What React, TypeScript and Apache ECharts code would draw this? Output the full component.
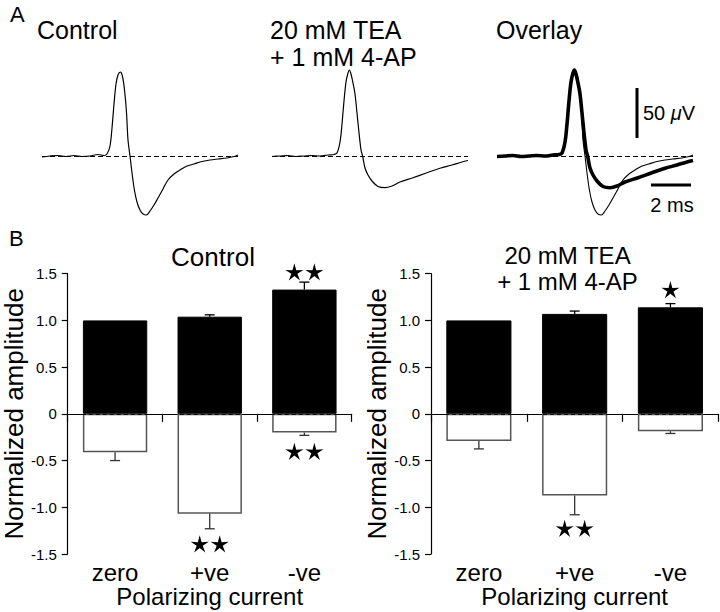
import React, { useEffect, useRef } from 'react';
import * as echarts from 'echarts';

const FONT = "'Liberation Sans', Arial, Helvetica, sans-serif";

// ---- Panel A: extracellular spike traces, [time (ms), amplitude (µV)] ----
const controlTrace: number[][] = [
  [0, -1], [0.4, 0], [0.8, 0.5], [1.2, -0.5], [1.6, 0.5], [2.0, -0.5], [2.4, 0], [2.8, 1.5],
  [3.1, 0.5], [3.25, 2], [3.4, 10], [3.5, 28], [3.6, 52], [3.7, 72], [3.8, 81], [3.92, 84],
  [4.02, 80], [4.12, 67], [4.22, 45], [4.3, 16], [4.4, 0], [4.52, -20], [4.62, -34], [4.75, -46],
  [4.9, -54], [5.05, -58], [5.22, -59], [5.4, -55], [5.6, -49], [5.8, -42], [6.05, -33], [6.3, -24],
  [6.6, -18], [6.9, -14], [7.25, -10], [7.6, -8], [7.9, -6], [8.4, -4], [8.8, -3], [9.25, -2],
  [9.6, -0.5], [9.8, 1],
];
const teaTrace: number[][] = [
  [0, -0.5], [0.4, 0], [0.8, 0.5], [1.2, -0.5], [1.6, 0], [2.0, 0.5], [2.4, 0], [2.8, 1],
  [3.1, 1.5], [3.25, 3], [3.4, 14], [3.5, 32], [3.6, 55], [3.7, 74], [3.8, 83], [3.87, 86],
  [3.95, 82], [4.05, 73], [4.15, 62], [4.3, 33], [4.45, 6], [4.53, 0], [4.65, -12], [4.8, -19],
  [5.0, -25], [5.3, -30.5], [5.65, -31.7], [6.0, -30], [6.4, -26], [7.05, -21.7], [7.75, -16.7],
  [8.4, -12.3], [9.0, -9], [9.5, -6], [9.8, -4.5],
];
const scaleBarVolt: number[][] = [[7.0, 18], [7.0, 68]]; // 50 µV
const scaleBarTime: number[][] = [[7.7, -29], [9.7, -29]]; // 2 ms

// ---- Panel B: normalized amplitudes ----
const categories = ['zero', '+ve', '-ve'];
const controlDepol = [1.0, 1.04, 1.33];
const controlDepolErr = [0, 0.02, 0.08];
const controlHyper = [-0.41, -1.07, -0.2];
const controlHyperErr = [0.09, 0.16, 0.03];
const teaDepol = [1.0, 1.07, 1.14];
const teaDepolErr = [0, 0.03, 0.04];
const teaHyper = [-0.29, -0.875, -0.185];
const teaHyperErr = [0.085, 0.205, 0.025];

// significance markers: category index, value position, number of stars
const controlSigCat = [2, 2, 1];
const controlSigVal = [1.52, -0.4, -1.39];
const controlSigStars = [2, 2, 2];
const teaSigCat = [2, 1];
const teaSigVal = [1.33, -1.225];
const teaSigStars = [1, 2];

const yTickLabels: Record<string, string> = {
  '-1.5': '-1.5', '-1': '-1.0', '-0.5': '-0.5', '0': '0', '0.5': '0.5', '1': '1.0', '1.5': '1.5',
};

const baseline = {
  silent: true,
  symbol: 'none',
  label: { show: false },
  lineStyle: { type: [5, 3], color: '#000', width: 1 },
  data: [{ yAxis: 0 }],
};

function traceSeries(data: number[][], idx: number, width: number, withBase: boolean, z = 2) {
  return {
    type: 'line',
    xAxisIndex: idx,
    yAxisIndex: idx,
    data,
    smooth: 0.35,
    symbol: 'none',
    z,
    lineStyle: { color: '#000', width },
    markLine: withBase ? baseline : undefined,
  };
}

function errorSeries(values: number[], errs: number[], idx: number, color: string) {
  const data = values.map((v, i) => [i, v, v + Math.sign(v) * errs[i]]);
  return {
    type: 'custom',
    xAxisIndex: idx,
    yAxisIndex: idx,
    silent: true,
    z: 6,
    encode: { x: 0, y: [1, 2] },
    data,
    renderItem: (_p: any, api: any) => {
      const i = api.value(0);
      const v = api.value(1);
      const e = api.value(2);
      if (v === e) return { type: 'group', children: [] };
      const a = api.coord([i, v]);
      const b = api.coord([i, e]);
      const hw = 5;
      const st = { stroke: color, lineWidth: 1.3 };
      return {
        type: 'group',
        children: [
          { type: 'line', shape: { x1: a[0], y1: a[1], x2: b[0], y2: b[1] }, style: st },
          { type: 'line', shape: { x1: b[0] - hw, y1: b[1], x2: b[0] + hw, y2: b[1] }, style: st },
        ],
      };
    },
  };
}

function starPoints(cx: number, cy: number, R: number, r: number) {
  const pts: number[][] = [];
  for (let k = 0; k < 10; k++) {
    const ang = -Math.PI / 2 + (k * Math.PI) / 5;
    const rad = k % 2 === 0 ? R : r;
    pts.push([cx + rad * Math.cos(ang), cy + rad * Math.sin(ang)]);
  }
  return pts;
}

function starSeries(cats: number[], vals: number[], counts: number[], idx: number) {
  return {
    type: 'custom',
    xAxisIndex: idx,
    yAxisIndex: idx,
    silent: true,
    clip: false,
    z: 7,
    encode: { x: 0, y: 1 },
    data: cats.map((c, i) => [c, vals[i], counts[i]]),
    renderItem: (_p: any, api: any) => {
      const c = api.coord([api.value(0), api.value(1)]);
      const n = api.value(2);
      const children: any[] = [];
      for (let k = 0; k < n; k++) {
        const cx = c[0] + (k - (n - 1) / 2) * 20;
        children.push({
          type: 'polygon',
          shape: { points: starPoints(cx, c[1] + 1, 9.5, 3.2) },
          style: { fill: '#000' },
        });
      }
      return { type: 'group', children };
    },
  };
}

function barAxes(idx: number) {
  return {
    x: {
      type: 'category',
      gridIndex: idx,
      data: categories,
      boundaryGap: true,
      axisLine: { lineStyle: { color: '#000', width: 1.2 } },
      axisTick: { show: true, alignWithLabel: false, length: 8, lineStyle: { color: '#000', width: 1.2 } },
      axisLabel: { color: '#000', fontSize: 24, fontFamily: FONT, margin: 6, lineHeight: 24 },
      name: 'Polarizing current',
      nameLocation: 'middle',
      nameGap: 30,
      nameTextStyle: { color: '#000', fontSize: 24, fontFamily: FONT, lineHeight: 24 },
    },
    y: {
      type: 'value',
      gridIndex: idx,
      min: -1.5,
      max: 1.5,
      interval: 0.5,
      axisLine: { show: true, lineStyle: { color: '#000', width: 1.2 } },
      axisTick: { show: true, length: 6, lineStyle: { color: '#000', width: 1.2 } },
      splitLine: { show: false },
      axisLabel: {
        color: '#000', fontSize: 15, fontFamily: FONT, margin: 11,
        formatter: (v: number) => yTickLabels[String(v)] ?? String(v),
      },
      name: 'Normalized amplitude',
      nameLocation: 'middle',
      nameRotate: 90,
      nameGap: 35,
      nameTextStyle: { color: '#000', fontSize: 26, fontFamily: FONT },
    },
  };
}

function barSeries(pos: number[], neg: number[], idx: number) {
  return [
    {
      type: 'bar', xAxisIndex: idx, yAxisIndex: idx, data: pos, barWidth: '68%', barGap: '-100%', z: 3,
      itemStyle: { color: '#000', borderColor: '#000', borderWidth: 1 },
    },
    {
      type: 'bar', xAxisIndex: idx, yAxisIndex: idx, data: neg, barWidth: '68%', barGap: '-100%', z: 3,
      itemStyle: { color: '#fff', borderColor: '#555', borderWidth: 1.5 },
      markLine: { ...baseline, lineStyle: { type: [4, 3], color: '#000', width: 1 } },
    },
  ];
}

function text(t: string, x: number, y: number, size: number, align = 'left', extra: any = {}) {
  return {
    type: 'text',
    x,
    y,
    silent: true,
    style: {
      text: t, fontSize: size, fontFamily: FONT, fill: '#000', align, verticalAlign: 'middle', ...extra,
    },
  };
}

export default function App() {
  const ref = useRef<HTMLDivElement>(null);
  useEffect(() => {
    if (!ref.current) return;
    const chart = echarts.init(ref.current, undefined, { renderer: 'svg' });
    const b1 = barAxes(3);
    const b2 = barAxes(4);
    const traceX = (i: number) => ({ type: 'value', gridIndex: i, min: 0, max: 9.8, show: false });
    const traceY = (i: number) => ({ type: 'value', gridIndex: i, min: -64, max: 96, show: false });
    const muRich = { i: { fontStyle: 'italic', fontSize: 20, fontFamily: FONT } };
    chart.setOption({
      animation: false,
      backgroundColor: '#fff',
      grid: [
        { left: 42, top: 60, width: 196, height: 160 },
        { left: 272, top: 60, width: 196, height: 160 },
        { left: 497, top: 60, width: 196, height: 160 },
        { left: 65, top: 273.7, width: 286.7, height: 280.3 },
        { left: 431, top: 273.7, width: 287.3, height: 280.3 },
      ],
      xAxis: [traceX(0), traceX(1), traceX(2), b1.x, b2.x],
      yAxis: [traceY(0), traceY(1), traceY(2), b1.y, b2.y],
      series: [
        traceSeries(controlTrace, 0, 1.2, true),
        traceSeries(teaTrace, 1, 1.2, true),
        traceSeries(controlTrace, 2, 1.1, true, 3),
        traceSeries(teaTrace, 2, 3.6, false, 2),
        { type: 'line', xAxisIndex: 2, yAxisIndex: 2, data: scaleBarVolt, symbol: 'none', lineStyle: { color: '#000', width: 3 } },
        { type: 'line', xAxisIndex: 2, yAxisIndex: 2, data: scaleBarTime, symbol: 'none', lineStyle: { color: '#000', width: 3 } },
        ...barSeries(controlDepol, controlHyper, 3),
        errorSeries(controlDepol, controlDepolErr, 3, '#000'),
        errorSeries(controlHyper, controlHyperErr, 3, '#333'),
        starSeries(controlSigCat, controlSigVal, controlSigStars, 3),
        ...barSeries(teaDepol, teaHyper, 4),
        errorSeries(teaDepol, teaDepolErr, 4, '#000'),
        errorSeries(teaHyper, teaHyperErr, 4, '#333'),
        starSeries(teaSigCat, teaSigVal, teaSigStars, 4),
      ],
      graphic: [
        text('A', 10, 14, 22),
        text('B', 9, 238, 22),
        text('Control', 37, 30, 25),
        text('20 mM TEA\n+ 1 mM 4-AP', 270, 43.5, 25, 'left', { lineHeight: 27 }),
        text('Overlay', 496, 30, 25),
        text('50 {i|μ}V', 643, 113, 20, 'left', { rich: muRich }),
        text('2 ms', 672, 205, 20, 'center'),
        text('Control', 213, 257, 26, 'center'),
        text('20 mM TEA\n+ 1 mM 4-AP', 567.5, 268.5, 24, 'center', { lineHeight: 25.5 }),
      ],
    });
    return () => chart.dispose();
  }, []);
  return <div ref={ref} style={{ position: 'fixed', left: 0, top: 0, width: 720, height: 612 }} />;
}
